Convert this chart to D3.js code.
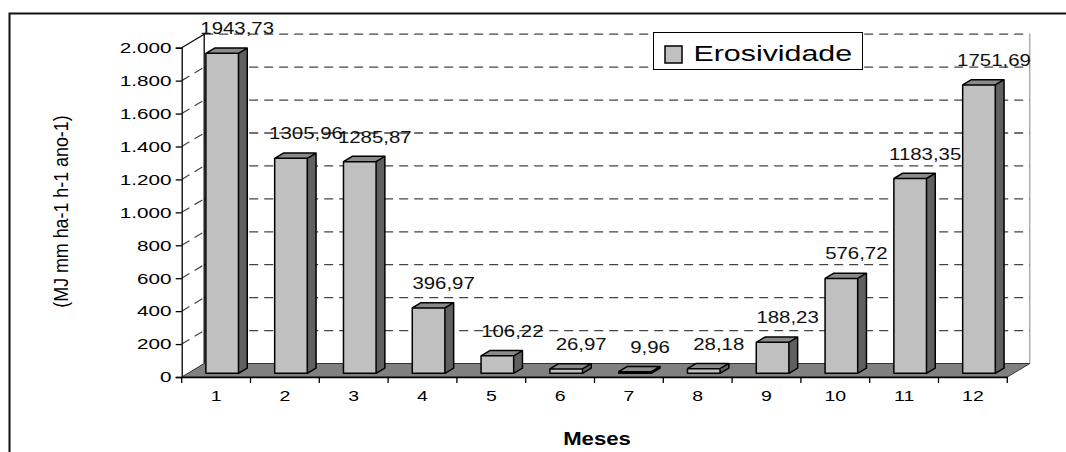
<!DOCTYPE html>
<html>

<head>
    <meta charset="utf-8">
    <title>Erosividade</title>
    <style>
        body {
            margin: 0;
            background: #fff;
        }

        figure {
            margin: 0;
        }

        svg {
            display: block;
            font-family: 'Liberation Sans', Arial, sans-serif;
            color: #000;
        }
    </style>
</head>

<body>
    <figure></figure>

    <script src="https://d3js.org/d3.v7.min.js"></script>

    <script>

        ////////////////////////////////////
        ///////////// Data /////////////////
        ////////////////////////////////////

        const months = ['1', '2', '3', '4', '5', '6', '7', '8', '9', '10', '11', '12']
        const erosividade = [1943.73, 1305.96, 1285.87, 396.97, 106.22, 26.97, 9.96, 28.18, 188.23, 576.72, 1183.35, 1751.69]
        const yTicks = [0, 200, 400, 600, 800, 1000, 1200, 1400, 1600, 1800, 2000]
        const seriesName = 'Erosividade'
        const xTitle = 'Meses'
        const yTitle = '(MJ mm ha-1 h-1 ano-1)'

        ////////////////////////////////////
        ///////////// SVG Setup ////////////
        ////////////////////////////////////

        const width = 1066
        const height = 452

        // front plane of the 3d box
        const plot = { left: 181.7, right: 1007.3, top: 47.7, bottom: 377 }
        // depth vector from front plane to back wall
        const depth = { dx: 22.5, dy: -13.5 }
        // bars sit between these fractions of the depth
        const barFront = 0.27
        const barBack = 0.66

        const svg = d3.select('figure')
            .append('svg')
            .attr('width', width)
            .attr('height', height)

        // brazilian number formats: 2.000 and 1943,73
        const br = d3.formatLocale({ decimal: ',', thousands: '.', grouping: [3], currency: ['R$', ''] })
        const fmtTick = br.format(',.0f')
        const fmtValue = br.format('.2f')

        ////////////////////////////////////
        /////////////// Scales /////////////
        ////////////////////////////////////

        const xScale = d3.scaleBand()
            .domain(months)
            .range([plot.left, plot.right])
            .padding(0)

        const yScale = d3.scaleLinear()
            .domain([0, 2000])
            .range([plot.bottom, plot.top])

        const data = months.map((m, i) => ({ month: m, value: erosividade[i] }))

        // outer frame (only left and top edge show)
        svg.append('rect')
            .attr('x', 9.5).attr('y', 13.5)
            .attr('width', 1200).attr('height', 600)
            .attr('fill', 'none')
            .attr('stroke', '#111')
            .attr('stroke-width', 2)

        ////////////////////////////////////
        /////////////// Walls //////////////
        ////////////////////////////////////

        const backLeft = plot.left + depth.dx
        const backRight = plot.right + depth.dx

        // side wall connectors (dashed), top one solid
        svg.selectAll('.side-grid')
            .data(yTicks.filter(d => d > 0))
            .enter()
            .append('line')
            .attr('x1', plot.left)
            .attr('y1', d => yScale(d))
            .attr('x2', backLeft)
            .attr('y2', d => yScale(d) + depth.dy)
            .attr('stroke', d => d === 2000 ? '#000' : '#444')
            .attr('stroke-width', 1.2)
            .attr('stroke-dasharray', d => d === 2000 ? null : '9,6')

        // back wall gridlines
        svg.selectAll('.back-grid')
            .data(yTicks.filter(d => d > 0))
            .enter()
            .append('line')
            .attr('x1', backLeft)
            .attr('y1', d => yScale(d) + depth.dy)
            .attr('x2', backRight)
            .attr('y2', d => yScale(d) + depth.dy)
            .attr('stroke', '#444')
            .attr('stroke-width', 1.3)
            .attr('stroke-dasharray', '9,6')

        // back wall edges
        svg.append('line')
            .attr('x1', backLeft).attr('x2', backLeft)
            .attr('y1', yScale(0) + depth.dy).attr('y2', yScale(2000) + depth.dy)
            .attr('stroke', '#000').attr('stroke-width', 1.3)

        svg.append('line')
            .attr('x1', backRight).attr('x2', backRight)
            .attr('y1', yScale(0) + depth.dy).attr('y2', yScale(2000) + depth.dy)
            .attr('stroke', '#888').attr('stroke-width', 1)

        // floor
        const y0 = yScale(0)
        svg.append('polygon')
            .attr('points', [
                [plot.left, y0], [plot.right, y0],
                [backRight, y0 + depth.dy], [backLeft, y0 + depth.dy]
            ].join(' '))
            .attr('fill', '#808080')
            .attr('stroke', '#333')
            .attr('stroke-width', 1)

        ////////////////////////////////////
        /////////////// Axes ///////////////
        ////////////////////////////////////

        const yAxis = svg.append('g')
            .attr('transform', `translate(${plot.left},0)`)
            .call(d3.axisLeft(yScale).tickValues(yTicks).tickFormat(fmtTick).tickSize(6).tickPadding(1.3))
            .attr('font-family', null)
            .attr('font-size', null)

        yAxis.selectAll('path, line').attr('stroke-width', 1.3)
        yAxis.selectAll('text')
            .style('font-size', '15px')
            .attr('transform', 'scale(1.38,1)')

        const xAxis = svg.append('g')
            .attr('transform', `translate(0,${y0})`)
            .call(d3.axisBottom(xScale).tickSize(0).tickSizeOuter(0).tickPadding(13.5))
            .attr('font-family', null)
            .attr('font-size', null)

        xAxis.select('.domain').attr('stroke-width', 1.5)
        xAxis.selectAll('text')
            .style('font-size', '15px')
            .attr('transform', 'scale(1.3,1)')

        // tick marks sit on the band edges
        xAxis.selectAll('.edge-tick')
            .data(months.map(m => xScale(m)).concat([xScale.range()[1]]))
            .enter()
            .append('line')
            .attr('x1', d => d).attr('x2', d => d)
            .attr('y1', 0).attr('y2', 6)
            .attr('stroke', '#000')
            .attr('stroke-width', 1.3)

        ////////////////////////////////////
        /////////////// Bars ///////////////
        ////////////////////////////////////

        const barW = xScale.bandwidth() * 0.474
        const ddx = (barBack - barFront) * depth.dx
        const ddy = (barBack - barFront) * depth.dy

        function barGeom(d) {
            const cx = xScale(d.month) + xScale.bandwidth() / 2 + barFront * depth.dx
            const x = cx - barW / 2
            const yb = yScale(0) + barFront * depth.dy
            const yt = yScale(d.value) + barFront * depth.dy
            return { cx, x, yb, yt }
        }

        const bars = svg.selectAll('.bar')
            .data(data)
            .enter()
            .append('g')
            .attr('class', 'bar')

        bars.append('polygon')
            .attr('points', d => {
                const g = barGeom(d)
                return [[g.x + barW, g.yt], [g.x + barW + ddx, g.yt + ddy],
                [g.x + barW + ddx, g.yb + ddy], [g.x + barW, g.yb]].join(' ')
            })
            .attr('fill', '#606060')

        bars.append('polygon')
            .attr('points', d => {
                const g = barGeom(d)
                return [[g.x, g.yt], [g.x + barW, g.yt],
                [g.x + barW + ddx, g.yt + ddy], [g.x + ddx, g.yt + ddy]].join(' ')
            })
            .attr('fill', '#8a8a8a')

        bars.append('rect')
            .attr('x', d => barGeom(d).x)
            .attr('y', d => barGeom(d).yt)
            .attr('width', barW)
            .attr('height', d => barGeom(d).yb - barGeom(d).yt)
            .attr('fill', '#c0c0c0')

        // outline of the whole box
        bars.append('path')
            .attr('d', d => {
                const g = barGeom(d)
                return `M${g.x},${g.yb}V${g.yt}H${g.x + barW}V${g.yb}Z` +
                    `M${g.x},${g.yt}L${g.x + ddx},${g.yt + ddy}H${g.x + barW + ddx}L${g.x + barW},${g.yt}` +
                    `M${g.x + barW + ddx},${g.yt + ddy}V${g.yb + ddy}L${g.x + barW},${g.yb}`
            })
            .attr('fill', 'none')
            .attr('stroke', '#000')
            .attr('stroke-width', 1.5)
            .attr('stroke-linejoin', 'round')

        // value labels
        bars.append('text')
            .attr('transform', d => {
                const g = barGeom(d)
                return `translate(${g.cx + 15},${g.yt - 19}) scale(1.2,1)`
            })
            .attr('text-anchor', 'middle')
            .style('font-size', '17px')
            .attr('fill', '#111')
            .text(d => fmtValue(d.value))

        ////////////////////////////////////
        /////////////// Legend /////////////
        ////////////////////////////////////

        const legend = svg.append('g')
            .attr('transform', 'translate(653.5,32.5)')

        legend.append('rect')
            .attr('width', 209).attr('height', 37)
            .attr('fill', '#fff')
            .attr('stroke', '#000')
            .attr('stroke-width', 1)

        legend.append('rect')
            .attr('x', 11.5).attr('y', 13.5)
            .attr('width', 17).attr('height', 17)
            .attr('fill', '#c0c0c0')
            .attr('stroke', '#000')
            .attr('stroke-width', 1.5)

        legend.append('text')
            .attr('transform', 'translate(40,28.5) scale(1.38,1)')
            .style('font-size', '22px')
            .text(seriesName)

        ////////////////////////////////////
        /////////////// Titles /////////////
        ////////////////////////////////////

        svg.append('text')
            .attr('transform', 'translate(597,445) scale(1.23,1)')
            .attr('text-anchor', 'middle')
            .style('font-size', '18px')
            .style('font-weight', 'bold')
            .text(xTitle)

        svg.append('text')
            .attr('transform', 'translate(68,211.5) rotate(-90) scale(1.19,1.35)')
            .attr('text-anchor', 'middle')
            .style('font-size', '15px')
            .text(yTitle)

    </script>
</body>

</html>
